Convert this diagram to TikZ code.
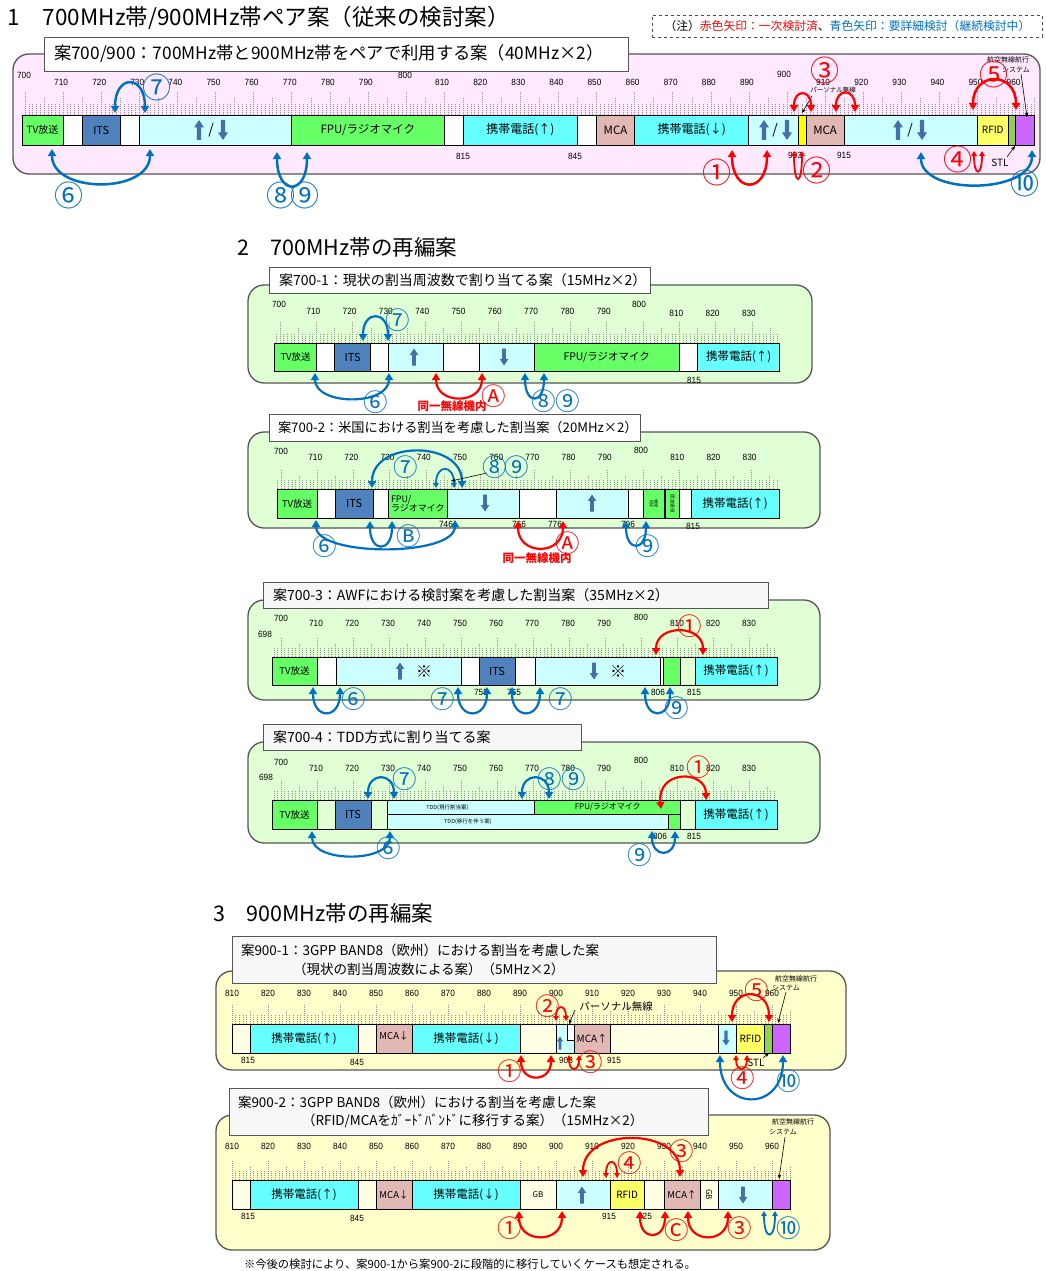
\documentclass[tikz,border=0pt]{standalone}
\usepackage{fontspec}
\setmainfont{Noto Sans CJK JP}
\newfontfamily\numf[FakeStretch=0.92]{Liberation Sans}
\usetikzlibrary{arrows.meta}
\definecolor{tvg}{HTML}{66FF66}
\definecolor{itsb}{HTML}{4F81BD}
\definecolor{lcy}{HTML}{CCFFFF}
\definecolor{cy}{HTML}{66FFFF}
\definecolor{mca}{HTML}{E2B8B4}
\definecolor{ylw}{HTML}{FFFF66}
\definecolor{ylw2}{HTML}{FFFF00}
\definecolor{stlg}{HTML}{92D050}
\definecolor{purp}{HTML}{CC66FF}
\definecolor{pinkbg}{HTML}{FFE9FF}
\definecolor{greenbg}{HTML}{E0FFD4}
\definecolor{yellowbg}{HTML}{FFFFCC}
\definecolor{ivory}{HTML}{FFFFE4}
\definecolor{arrred}{HTML}{FF0000}
\definecolor{arrblue}{HTML}{0070C0}
\definecolor{bfill}{HTML}{466EAA}
\definecolor{pborder}{HTML}{555555}
\newcommand\fsz[1]{\fontsize{#1}{#1}\selectfont}
\newcounter{nd}
\newcommand\setpanel[3]{\def\xo{#1}\def\xk{#2}\def\fo{#3}}
\newcommand\blk[6]{%
 \pgfmathsetmacro\bkx{\xo+\xk*(#2-\fo)}%
 \pgfmathsetmacro\bkw{\xk*(#3-#2)}%
 \node[blkst,#6,minimum width=\bkw pt,minimum height=#5pt] (#1) at (\bkx,#4) {};}
\newcommand\btxt[3]{\node[txt,#2] (#1t) at (#1.center) {#3};}
\newcommand\ptext[4]{\stepcounter{nd}\node[txt,#3] (n\arabic{nd}) at (#1,#2) {#4};}
\newcommand\tlab[3]{\stepcounter{nd}\pgfmathsetmacro\lbx{\xo+\xk*(#1-\fo)+#3}\node[txt,tkl] (n\arabic{nd}) at (\lbx,#2) {#1};}
\newcommand\ruler[6]{%
 \foreach \f in {#1,...,#2}{%
  \pgfmathsetmacro\tkx{\xo+\xk*(\f-\fo)}%
  \pgfmathtruncatemacro\tkmt{mod(\f,10)}%
  \pgfmathtruncatemacro\tkmf{mod(\f,5)}%
  \ifnum\tkmt=0 \def\tkh{#4}\else\ifnum\tkmf=0 \def\tkh{#5}\else\def\tkh{#6}\fi\fi
  \draw[tk] (\tkx,#3) -- (\tkx,#3-\tkh);}}
\newcommand\myarc[7]{\coordinate (#1a) at (#3,#4);\coordinate (#1b) at (#5,#6);\draw[#2] (#1a) .. controls +(0,#7) and +(0,#7) .. (#1b);}
\newcommand\cnum[5][]{\stepcounter{nd}\node[cn,text=#4,#1] (n\arabic{nd}) at (#2,#3) {#5};}
\newcommand\thinarr[5]{\coordinate (#1a) at (#2,#3);\coordinate (#1b) at (#4,#5);\draw[tharr] (#1a) -- (#1b);}
\tikzset{
 blkst/.style={draw=black,line width=0.9pt,inner sep=0pt,outer sep=0pt,anchor=north west},
 txt/.style={inner sep=0pt,outer sep=0pt},
 tkl/.style={font=\numf\fsz{9}},
 tk/.style={draw=gray!85,line width=0.5pt,dash pattern=on 1.2pt off 0.8pt},
 rarr/.style={<->,draw=arrred,line width=2.2pt},
 rarrs/.style={<->,>={Triangle[length=5pt,width=5.5pt]},draw=arrred,line width=1.8pt},
 barr/.style={<->,draw=arrblue,line width=2.2pt},
 barrs/.style={<->,>={Triangle[length=5pt,width=5.5pt]},draw=arrblue,line width=1.8pt},
 tharr/.style={-{Stealth[length=4.5pt,width=3.5pt]},draw=black,line width=0.6pt},
 cn/.style={inner sep=0pt,font=\fsz{24.5}},
 cnl/.style={font=\fsz{29}},
 panelst/.style={draw=pborder,line width=1.3pt,rounded corners=16pt},
 tbox/.style={draw=pborder,line width=1pt,anchor=north west,inner sep=0pt},
 uarr/.pic={\fill[bfill] (0,-10) -- (5,-2.5) -- (2.2,-2.5) -- (2.2,10) -- (-2.2,10) -- (-2.2,-2.5) -- (-5,-2.5) -- cycle;},
 darr/.pic={\fill[bfill] (0,10) -- (5,2.5) -- (2.2,2.5) -- (2.2,-10) -- (-2.2,-10) -- (-2.2,2.5) -- (-5,2.5) -- cycle;},
}
\begin{document}
\begin{tikzpicture}[x=1pt,y=-1pt,>={Triangle[length=7pt,width=8pt]}]
\useasboundingbox (0,0) rectangle (1046,1271);
\fill[white] (0,0) rectangle (1046,1271);

%================ Section 1 =================
\ptext{8}{18}{anchor=west,font=\fsz{22.5}}{1　700MHz帯/900MHz帯ペア案（従来の検討案）}
\node[draw=black!70,dashed,line width=0.8pt,minimum width=390pt,minimum height=22pt,anchor=north west,inner sep=0pt] (note) at (652,15) {};
\node[txt,font=\fsz{11.8}] (notet) at (note.center) {（注）\textcolor{arrred}{赤色矢印：一次検討済}、\textcolor{arrblue}{青色矢印：要詳細検討（継続検討中）}};
\draw[panelst,fill=pinkbg] (13,54) rectangle (1040,174);
\node[tbox,fill=white,minimum width=584pt,minimum height=34pt] (tb1) at (44,37) {};
\node[txt,anchor=west,font=\fsz{17.3}] (tb1t) at (54,54) {案700/900：700MHz帯と900MHz帯をペアで利用する案（40MHz×2）};
\setpanel{25}{3.81}{700}
\ruler{700}{965}{115}{23}{17}{11}
\tlab{700}{75}{-1}
\foreach \f in {710,720,...,790}{\tlab{\f}{82}{-2}}
\tlab{800}{75}{-1}
\foreach \f in {810,820,...,890}{\tlab{\f}{82}{-2}}
\tlab{900}{74}{-3}
\foreach \f in {910,920,...,960}{\tlab{\f}{82}{-2}}
\blk{s1tv}{699.2}{710}{115}{30}{fill=tvg}
\blk{s1w1}{710}{715}{115}{30}{fill=white}
\blk{s1its}{715}{725}{115}{30}{fill=itsb}
\blk{s1w2}{725}{730}{115}{30}{fill=white}
\blk{s1c1}{730}{770}{115}{30}{fill=lcy}
\blk{s1fpu}{770}{810}{115}{30}{fill=tvg}
\blk{s1w3}{810}{815}{115}{30}{fill=white}
\blk{s1m1}{815}{845}{115}{30}{fill=cy}
\blk{s1w4}{845}{850}{115}{30}{fill=white}
\blk{s1mca1}{850}{860}{115}{30}{fill=mca}
\blk{s1m2}{860}{890}{115}{30}{fill=cy}
\blk{s1c2}{890}{903}{115}{30}{fill=lcy}
\blk{s1y}{903}{905}{115}{30}{fill=ylw2}
\blk{s1mca2}{905}{915}{115}{30}{fill=mca}
\blk{s1c3}{915}{950}{115}{30}{fill=lcy}
\blk{s1rf}{950}{958}{115}{30}{fill=ylw}
\blk{s1stl}{958}{960}{115}{30}{fill=stlg}
\blk{s1pu}{960}{965}{115}{30}{fill=purp}
\btxt{s1tv}{font=\fsz{10}}{TV放送}
\btxt{s1its}{font=\fsz{11}}{ITS}
\btxt{s1fpu}{font=\fsz{11.5}}{FPU/ラジオマイク}
\btxt{s1m1}{font=\fsz{12}}{携帯電話(↑)}
\btxt{s1mca1}{font=\fsz{11.5}}{MCA}
\btxt{s1m2}{font=\fsz{12}}{携帯電話(↓)}
\btxt{s1mca2}{font=\fsz{11.5}}{MCA}
\btxt{s1rf}{font=\fsz{10}}{RFID}
\pic at (199,130) {uarr}; \ptext{211}{130}{font=\fsz{14}}{/} \pic at (223,130) {darr};
\pic at (764,130) {uarr}; \ptext{775}{130}{font=\fsz{14}}{/} \pic at (787,130) {darr};
\pic at (898,130) {uarr}; \ptext{910}{130}{font=\fsz{14}}{/} \pic at (922,130) {darr};
\ptext{463}{156}{tkl}{815}
\ptext{575}{156}{tkl}{845}
\ptext{795}{155}{tkl}{903}
\ptext{844}{155}{tkl}{915}
\ptext{833}{90}{font=\fsz{6.5}}{パーソナル無線}
\ptext{1008}{60}{font=\fsz{7}}{航空無線航行}
\ptext{1016}{70}{font=\fsz{7}}{システム}
\ptext{1000}{163}{font=\fsz{10}}{STL}
\thinarr{p1}{812}{96}{802}{113}
\thinarr{k1}{1021}{74}{1027}{117}
\thinarr{s1}{1007}{157}{1015}{146}
\myarc{a7}{barr,line width=2.5pt}{115}{113}{145}{113}{-39}
\myarc{a6}{barr,line width=2.5pt}{52}{149}{150}{149}{45}
\myarc{a89}{barr,line width=2.5pt}{277}{152}{307}{152}{44}
\myarc{a3a}{rarr}{794}{112}{811}{112}{-23}
\myarc{a3b}{rarr}{836}{112}{855}{112}{-24}
\myarc{a5}{rarr,line width=2.5pt}{973}{110}{1016}{110}{-39}
\myarc{a1}{rarr,line width=2.5pt}{732}{150}{767}{150}{44}
\myarc{a2}{rarrs}{794}{151}{802}{151}{36}
\myarc{a4}{rarrs}{974}{151}{982}{151}{26}
\myarc{a10}{barr,line width=2.5pt}{921}{152}{1032}{150}{44}
\cnum[cnl]{157}{87}{arrblue}{⑦}
\cnum[cnl]{69}{195}{arrblue}{⑥}
\cnum[cnl]{281}{195}{arrblue}{⑧}
\cnum[cnl]{305}{195}{arrblue}{⑨}
\cnum[cnl]{825}{70}{arrred}{③}
\cnum[cnl]{994}{74}{arrred}{⑤}
\cnum[cnl]{717}{172}{arrred}{①}
\cnum[cnl]{817}{170}{arrred}{②}
\cnum[cnl]{958}{159}{arrred}{④}
\cnum[cnl]{1025}{183}{arrblue}{⑩}

%================ Section 2 =================
\ptext{237}{247}{anchor=west,font=\fsz{21.5}}{2　700MHz帯の再編案}

% ---- 700-1
\draw[panelst,fill=greenbg] (248,285) rectangle (812,383);
\node[tbox,fill=white,minimum width=381pt,minimum height=26pt] (tb21) at (269,267) {};
\node[txt,anchor=west,font=\fsz{14}] (tb21t) at (279,280) {案700-1：現状の割当周波数で割り当てる案（15MHz×2）};
\setpanel{280}{3.63}{700}
\ruler{699}{837}{343}{21}{15}{10}
\tlab{700}{304}{-1}
\foreach \f in {710,720,...,790}{\tlab{\f}{311}{-3}}
\tlab{800}{304}{-4}
\foreach \f in {810,820,830}{\tlab{\f}{313}{-3}}
\blk{b1tv}{698.6}{710}{343}{28}{fill=tvg}
\blk{b1w1}{710}{715}{343}{28}{fill=white}
\blk{b1its}{715}{725}{343}{28}{fill=itsb}
\blk{b1w2}{725}{730}{343}{28}{fill=white}
\blk{b1up}{730}{745}{343}{28}{fill=lcy}
\blk{b1w3}{745}{755}{343}{28}{fill=white}
\blk{b1dn}{755}{770}{343}{28}{fill=lcy}
\blk{b1fpu}{770}{810}{343}{28}{fill=tvg}
\blk{b1w4}{810}{815}{343}{28}{fill=white}
\blk{b1m1}{815}{837.7}{343}{28}{fill=cy}
\btxt{b1tv}{font=\fsz{9.5}}{TV放送}
\btxt{b1its}{font=\fsz{11}}{ITS}
\btxt{b1fpu}{font=\fsz{10.5}}{FPU/ラジオマイク}
\btxt{b1m1}{font=\fsz{11.5}}{携帯電話(↑)}
\pic[scale=0.85] at (414,357) {uarr};
\pic[scale=0.85] at (504,357) {darr};
\ptext{694}{380}{tkl}{815}
\myarc{b7}{barr}{363}{341}{388}{341}{-31}
\myarc{b6}{barr}{315}{373}{389}{373}{33}
\myarc{bA}{rarr}{436}{373}{482}{373}{32}
\myarc{b89}{barr}{525}{373}{544}{373}{32}
\ptext{452}{406}{text=arrred,font=\fsz{11.5}\bfseries}{同一無線機内}
\cnum{398}{320}{arrblue}{⑦}
\cnum{376}{402}{arrblue}{⑥}
\cnum{494}{396}{arrred}{Ⓐ}
\cnum{544}{401}{arrblue}{⑧}
\cnum{568}{401}{arrblue}{⑨}

% ---- 700-2
\draw[panelst,fill=greenbg] (248,432) rectangle (820,528);
\node[tbox,fill=white,minimum width=371pt,minimum height=27pt] (tb22) at (269,414) {};
\node[txt,anchor=west,font=\fsz{13.2}] (tb22t) at (278,427.5) {案700-2：米国における割当を考慮した割当案（20MHz×2）};
\setpanel{281}{3.62}{700}
\ruler{699}{837}{489}{20}{14}{9}
\tlab{700}{451}{0}
\foreach \f in {710,720,...,790}{\tlab{\f}{457}{-2}}
\tlab{800}{450}{-2}
\foreach \f in {810,820,830}{\tlab{\f}{457}{-2}}
\blk{c2tv}{698.9}{710}{489}{29}{fill=tvg}
\blk{c2w1}{710}{715}{489}{29}{fill=white}
\blk{c2its}{715}{725.4}{489}{29}{fill=itsb}
\blk{c2w2}{725.4}{729.6}{489}{29}{fill=white}
\blk{c2fpu}{729.6}{746}{489}{29}{fill=tvg}
\blk{c2dn}{746}{766}{489}{29}{fill=lcy}
\blk{c2w3}{766}{776}{489}{29}{fill=white}
\blk{c2up}{776}{796}{489}{29}{fill=lcy}
\blk{c2w4}{796}{800}{489}{29}{fill=white}
\blk{c2g1}{800}{806}{489}{29}{fill=tvg}
\blk{c2g2}{806.3}{810}{489}{29}{fill=tvg}
\blk{c2w5}{810}{813.3}{489}{29}{fill=white}
\blk{c2m1}{813.3}{837.6}{489}{29}{fill=cy}
\btxt{c2tv}{font=\fsz{9.5}}{TV放送}
\btxt{c2its}{font=\fsz{11}}{ITS}
\btxt{c2fpu}{font=\fsz{9},align=left}{FPU/\\ラジオマイク}
\btxt{c2g1}{font=\fsz{4.5},rotate=-90,align=center}{特定\\RM}
\btxt{c2g2}{font=\fsz{4.5},rotate=-90}{固定通信}
\btxt{c2m1}{font=\fsz{11.5}}{携帯電話(↑)}
\pic[scale=0.85] at (485,503) {darr};
\pic[scale=0.85] at (592,503) {uarr};
\ptext{446}{524}{tkl}{746}
\ptext{519}{524}{tkl}{766}
\ptext{555}{524}{tkl}{776}
\ptext{628}{524}{tkl}{796}
\ptext{693}{526}{tkl}{815}
\myarc{c7}{barr}{372}{488}{462}{488}{-48}
\myarc{c7s}{barrs}{436}{488}{454}{488}{-24}
\myarc{c6}{barr}{316}{520}{455}{520}{37}
\myarc{cB}{barr}{370}{521}{392}{521}{32}
\myarc{cA}{rarr}{518}{521}{563}{521}{35}
\myarc{c9}{barr}{626}{521}{646}{521}{31}
\thinarr{c8}{487}{473}{451}{481}
\ptext{537}{558}{text=arrred,font=\fsz{11.5}\bfseries}{同一無線機内}
\cnum{406}{467}{arrblue}{⑦}
\cnum{495}{467}{arrblue}{⑧}
\cnum{517}{467}{arrblue}{⑨}
\cnum{325}{546}{arrblue}{⑥}
\cnum{409}{536}{arrblue}{Ⓑ}
\cnum{568}{543}{arrred}{Ⓐ}
\cnum{648}{546}{arrblue}{⑨}

% ---- 700-3
\draw[panelst,fill=greenbg] (248,600) rectangle (820,700);
\node[tbox,fill=black!3,minimum width=505pt,minimum height=26pt] (tb23) at (263,582) {};
\node[txt,anchor=west,font=\fsz{14}] (tb23t) at (273,595) {案700-3：AWFにおける検討案を考慮した割当案（35MHz×2）};
\setpanel{281}{3.6}{700}
\ruler{698}{837}{657}{20}{14}{9}
\tlab{700}{618}{0}
\ptext{265}{634}{tkl}{698}
\foreach \f in {710,720,...,790}{\tlab{\f}{623}{-1}}
\tlab{800}{617}{0}
\foreach \f in {810,820,830}{\tlab{\f}{623}{0}}
\blk{d3tv}{697.5}{710}{657}{28}{fill=tvg}
\blk{d3w1}{710}{715.5}{657}{28}{fill=white}
\blk{d3up}{715.5}{750}{657}{28}{fill=lcy}
\blk{d3w2}{750}{755}{657}{28}{fill=white}
\blk{d3its}{755}{765}{657}{28}{fill=itsb}
\blk{d3w3}{765}{770.8}{657}{28}{fill=white}
\blk{d3dn}{770.8}{805.5}{657}{28}{fill=lcy}
\blk{d3w4}{805.5}{806.3}{657}{28}{fill=white}
\blk{d3g}{806.3}{811}{657}{28}{fill=tvg}
\blk{d3e}{811}{815}{657}{28}{}
\blk{d3m1}{815}{837.8}{657}{28}{fill=cy}
\btxt{d3tv}{font=\fsz{9.5}}{TV放送}
\btxt{d3its}{font=\fsz{11}}{ITS}
\btxt{d3m1}{font=\fsz{11.5}}{携帯電話(↑)}
\pic[scale=0.85] at (400,671) {uarr};
\ptext{424}{672}{font=\fsz{16}}{※}
\pic[scale=0.85] at (594,671) {darr};
\ptext{618}{672}{font=\fsz{16}}{※}
\ptext{481}{692}{tkl}{755}
\ptext{514}{692}{tkl}{765}
\ptext{658}{692}{tkl}{806}
\ptext{694}{692}{tkl}{815}
\myarc{d1}{rarr}{656}{655}{703}{655}{-31}
\myarc{d6}{barr}{313}{687}{340}{687}{33}
\myarc{d7a}{barr}{458}{687}{487}{687}{33}
\myarc{d7b}{barr}{512}{687}{540}{687}{33}
\myarc{d9}{barr}{645}{687}{670}{687}{33}
\cnum{690}{626}{arrred}{①}
\cnum{354}{699}{arrblue}{⑥}
\cnum{443}{699}{arrblue}{⑦}
\cnum{561}{699}{arrblue}{⑦}
\cnum{677}{708}{arrblue}{⑨}

% ---- 700-4
\draw[panelst,fill=greenbg] (248,742) rectangle (820,843);
\node[tbox,fill=black!3,minimum width=318pt,minimum height=26pt] (tb24) at (263,724) {};
\node[txt,anchor=west,font=\fsz{14}] (tb24t) at (273,737) {案700-4：TDD方式に割り当てる案};
\setpanel{281}{3.6}{700}
\ruler{698}{837}{800}{20}{14}{9}
\tlab{700}{762}{0}
\ptext{266}{777}{tkl}{698}
\foreach \f in {710,720,...,790}{\tlab{\f}{768}{-1}}
\tlab{800}{760}{0}
\foreach \f in {810,820,830}{\tlab{\f}{768}{0}}
\blk{e4tv}{697.5}{710}{800}{29}{fill=tvg}
\blk{e4w1}{710}{715}{800}{29}{}
\blk{e4its}{715}{725}{800}{29}{fill=itsb}
\blk{e4w2}{725}{729.7}{800}{29}{}
\blk{e4tdd1}{729.7}{770.5}{800}{14.5}{fill=lcy}
\blk{e4fpu}{770.5}{811}{800}{14.5}{fill=tvg}
\blk{e4tdd2}{729.7}{807.5}{814.5}{14.5}{fill=lcy}
\blk{e4g}{807.5}{811}{814.5}{14.5}{fill=tvg}
\blk{e4w3}{811}{815}{800}{29}{}
\blk{e4m1}{815}{837.8}{800}{29}{fill=cy}
\btxt{e4tv}{font=\fsz{9.5}}{TV放送}
\btxt{e4its}{font=\fsz{11}}{ITS}
\btxt{e4tdd1}{font=\fsz{5.5},xshift=-14pt}{TDD(現行割当案)}
\btxt{e4fpu}{font=\fsz{8}}{FPU/ラジオマイク}
\btxt{e4tdd2}{font=\fsz{5.5},xshift=-60pt}{TDD(移行を伴う案)}
\btxt{e4m1}{font=\fsz{11.5}}{携帯電話(↑)}
\ptext{660}{836}{tkl}{806}
\ptext{694}{836}{tkl}{815}
\myarc{e7}{barr}{368}{799}{394}{799}{-27}
\myarc{e89}{barr}{522}{799}{549}{799}{-27}
\coordinate (e1a) at (661,809); \coordinate (e1b) at (706,800);
\draw[rarr] (e1a) .. controls +(-4,-40) and +(0,-30) .. (e1b);
\myarc{e6}{barr}{312}{831}{390}{831}{32}
\myarc{e9}{barr}{652}{831}{675}{831}{27}
\cnum{405}{779}{arrblue}{⑦}
\cnum{550}{779}{arrblue}{⑧}
\cnum{574}{779}{arrblue}{⑨}
\cnum{699}{767}{arrred}{①}
\cnum{389}{848}{arrblue}{⑥}
\cnum{640}{855}{arrblue}{⑨}

%================ Section 3 =================
\ptext{213}{913}{anchor=west,font=\fsz{21.5}}{3　900MHz帯の再編案}

% ---- 900-1
\draw[panelst,fill=yellowbg] (216,971) rectangle (846,1070);
\node[tbox,fill=black!3,minimum width=484pt,minimum height=47pt] (tb31) at (232,936) {};
\node[txt,anchor=west,font=\fsz{13.5}] (tb31t) at (241,950) {案900-1：3GPP BAND8（欧州）における割当を考慮した案};
\node[txt,anchor=west,font=\fsz{13.5}] (tb31u) at (293,969) {（現状の割当周波数による案）（5MHz×2）};
\setpanel{232}{3.6}{810}
\ruler{810}{965}{1024}{20}{14}{9}
\foreach \f in {810,820,...,960}{\tlab{\f}{993}{0}}
\blk{f1w}{810}{815}{1024}{29}{fill=ivory}
\blk{f1m1}{815}{845}{1024}{29}{fill=cy}
\blk{f1w2}{845}{850}{1024}{29}{fill=ivory}
\blk{f1mcd}{850}{860}{1024}{29}{fill=mca}
\blk{f1m2}{860}{890}{1024}{29}{fill=cy}
\blk{f1e1}{890}{900}{1024}{29}{fill=ivory}
\blk{f1up}{900}{905}{1024}{29}{fill=lcy}
\blk{f1pb}{903.2}{905}{1024}{16}{fill=white}
\blk{f1mcu}{905}{915}{1024}{29}{fill=mca}
\blk{f1e2}{915}{945}{1024}{29}{fill=ivory}
\blk{f1dn}{945}{950}{1024}{29}{fill=lcy}
\blk{f1rf}{950}{958}{1024}{29}{fill=ylw}
\blk{f1stl}{958}{960}{1024}{29}{fill=stlg}
\blk{f1pu}{960}{965}{1024}{29}{fill=purp}
\btxt{f1m1}{font=\fsz{11.5}}{携帯電話(↑)}
\btxt{f1mcd}{font=\fsz{9.5},yshift=3pt}{MCA↓}
\btxt{f1m2}{font=\fsz{11.5}}{携帯電話(↓)}
\btxt{f1mcu}{font=\fsz{10}}{MCA↑}
\btxt{f1rf}{font=\fsz{10}}{RFID}
\pic[scale=0.65] at (560,1043) {uarr};
\pic[scale=0.75] at (726,1038) {darr};
\ptext{248}{1060}{tkl}{815}
\ptext{357}{1062}{tkl}{845}
\ptext{566}{1060}{tkl}{903}
\ptext{614}{1060}{tkl}{915}
\ptext{616}{1007}{font=\fsz{10.5}}{パーソナル無線}
\ptext{796}{979}{font=\fsz{7}}{航空無線航行}
\ptext{786}{988}{font=\fsz{7}}{システム}
\ptext{756}{1063}{font=\fsz{10}}{STL}
\thinarr{f1p}{575}{1010}{569}{1024}
\thinarr{f1k}{786}{992}{778}{1023}
\thinarr{f1s}{763}{1058}{769}{1053}
\myarc{f2}{rarrs}{556}{1021}{566}{1021}{-17}
\myarc{f5}{rarr}{732}{1022}{769}{1022}{-35}
\myarc{f1}{rarr}{521}{1055}{551}{1055}{28}
\myarc{f3}{rarrs}{569}{1055}{579}{1055}{17}
\myarc{f4}{rarrs}{736}{1055}{747}{1055}{17}
\myarc{f10}{barr}{720}{1055}{783}{1055}{57}
\cnum{548}{1006}{arrred}{②}
\cnum{757}{990}{arrred}{⑤}
\cnum{510}{1071}{arrred}{①}
\cnum{591}{1062}{arrred}{③}
\cnum{743}{1078}{arrred}{④}
\cnum{789}{1081}{arrblue}{⑩}

% ---- 900-2
\draw[panelst,fill=yellowbg] (216,1115) rectangle (830,1250);
\node[tbox,fill=black!3,minimum width=479pt,minimum height=47pt] (tb32) at (229,1088) {};
\node[txt,anchor=west,font=\fsz{13.5}] (tb32t) at (238,1102) {案900-2：3GPP BAND8（欧州）における割当を考慮した案};
\node[txt,anchor=west,font=\fsz{13.5}] (tb32u) at (302,1121) {（RFID/MCAをｶﾞｰﾄﾞﾊﾞﾝﾄﾞに移行する案）（15MHz×2）};
\setpanel{232}{3.6}{810}
\ruler{810}{965}{1180}{20}{14}{9}
\foreach \f in {810,820,...,960}{\tlab{\f}{1146}{0}}
\blk{g2w}{810}{815}{1180}{29}{fill=ivory}
\blk{g2m1}{815}{845}{1180}{29}{fill=cy}
\blk{g2w2}{845}{850}{1180}{29}{fill=ivory}
\blk{g2mcd}{850}{860}{1180}{29}{fill=mca}
\blk{g2m2}{860}{890}{1180}{29}{fill=cy}
\blk{g2gb}{890}{900}{1180}{29}{fill=ivory}
\blk{g2up}{900}{915}{1180}{29}{fill=lcy}
\blk{g2rf}{915}{924.5}{1180}{29}{fill=ylw}
\blk{g2e}{924.5}{930}{1180}{29}{fill=ivory}
\blk{g2mcu}{930}{940}{1180}{29}{fill=mca}
\blk{g2gb2}{940}{945}{1180}{29}{fill=ivory}
\blk{g2dn}{945}{960}{1180}{29}{fill=lcy}
\blk{g2pu}{960}{965}{1180}{29}{fill=purp}
\btxt{g2m1}{font=\fsz{11.5}}{携帯電話(↑)}
\btxt{g2mcd}{font=\fsz{9.5}}{MCA↓}
\btxt{g2m2}{font=\fsz{11.5}}{携帯電話(↓)}
\btxt{g2gb}{font=\fsz{8}}{GB}
\btxt{g2rf}{font=\fsz{10}}{RFID}
\btxt{g2mcu}{font=\fsz{9.5}}{MCA↑}
\btxt{g2gb2}{font=\fsz{8},rotate=-90}{GB}
\pic[scale=0.85] at (582,1195) {uarr};
\pic[scale=0.85] at (743,1195) {darr};
\ptext{248}{1216}{tkl}{815}
\ptext{357}{1218}{tkl}{845}
\ptext{609}{1216}{tkl}{915}
\ptext{645}{1216}{tkl}{925}
\ptext{793}{1122}{font=\fsz{7}}{航空無線航行}
\ptext{783}{1132}{font=\fsz{7}}{システム}
\thinarr{g2k}{785}{1137}{779}{1179}
\myarc{g3}{rarr}{583}{1177}{680}{1177}{-50}
\myarc{g4}{rarrs}{606}{1178}{617}{1178}{-20}
\myarc{g1}{rarr}{519}{1211}{562}{1211}{33}
\myarc{gC}{rarr}{640}{1211}{665}{1211}{30}
\myarc{g3b}{rarr}{688}{1211}{728}{1211}{33}
\myarc{g10}{barrs}{764}{1211}{775}{1211}{30}
\cnum{682}{1151}{arrred}{③}
\cnum{630}{1163}{arrred}{④}
\cnum{510}{1228}{arrred}{①}
\cnum{677}{1230}{arrred}{Ⓒ}
\cnum{740}{1228}{arrred}{③}
\cnum{789}{1228}{arrblue}{⑩}
\ptext{244}{1264}{anchor=west,font=\fsz{11.3}}{※今後の検討により、案900-1から案900-2に段階的に移行していくケースも想定される。}
\end{tikzpicture}
\end{document}
